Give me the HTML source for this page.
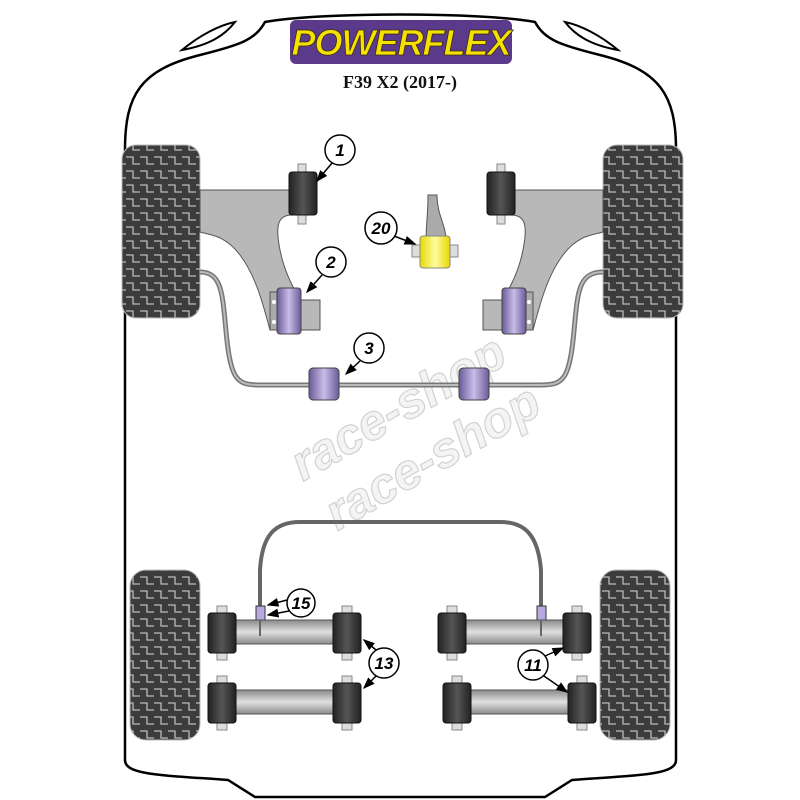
<!DOCTYPE html>
<html><head><meta charset="utf-8"><style>html,body{margin:0;padding:0;background:#fff}svg{display:block}</style></head>
<body>
<svg width="800" height="800" viewBox="0 0 800 800" xmlns="http://www.w3.org/2000/svg">
<defs>
<pattern id="tread" width="14" height="14" patternUnits="userSpaceOnUse">
<rect width="14" height="14" fill="#3c3c3c"/>
<path d="M0 3 H7 V10 H14" stroke="#bbb" stroke-width="1.3" fill="none"/>
</pattern>
<linearGradient id="bar" x1="0" y1="0" x2="0" y2="1"><stop offset="0" stop-color="#8a8a8a"/><stop offset="0.5" stop-color="#e0e0e0"/><stop offset="1" stop-color="#8a8a8a"/></linearGradient>
<linearGradient id="blk" x1="0" y1="0" x2="1" y2="0"><stop offset="0" stop-color="#222"/><stop offset="0.5" stop-color="#555"/><stop offset="1" stop-color="#222"/></linearGradient>
<linearGradient id="pur" x1="0" y1="0" x2="1" y2="0"><stop offset="0" stop-color="#6a5a9a"/><stop offset="0.5" stop-color="#c8bde8"/><stop offset="1" stop-color="#6a5a9a"/></linearGradient>
<linearGradient id="yel" x1="0" y1="0" x2="1" y2="0"><stop offset="0" stop-color="#e8d800"/><stop offset="0.5" stop-color="#fffca0"/><stop offset="1" stop-color="#e8d800"/></linearGradient>
<marker id="ar" markerWidth="8" markerHeight="8" refX="7" refY="4" orient="auto"><path d="M0 1 L8 4 L0 7 Z" fill="#000"/></marker>
</defs>
<path d="M125 760 L125 150 C125 95 140 70 200 55 C240 45 255 40 265 22 C320 12 480 12 535 22 C545 40 560 45 600 55 C660 70 676 95 676 150 L676 760 C676 775 640 775 572 780 L545 797 L255 797 L228 780 C160 775 125 775 125 760 Z" fill="#fff" stroke="#000" stroke-width="2.5"/>
<path d="M182 50 C200 35 220 25 235 22 C225 35 210 45 182 50 Z" fill="#fff" stroke="#000" stroke-width="2"/>
<path d="M618 50 C600 35 580 25 565 22 C575 35 590 45 618 50 Z" fill="#fff" stroke="#000" stroke-width="2"/>
<rect x="290" y="20" width="222" height="44" rx="6" fill="#5b3a8c"/>
<text x="401" y="55" text-anchor="middle" font-family="Liberation Sans, sans-serif" font-weight="bold" font-style="italic" font-size="36" fill="#f5e100" stroke="#3a2a10" stroke-width="0.8" letter-spacing="-1">POWERFLEX</text>
<text x="400" y="88" text-anchor="middle" font-family="Liberation Serif, serif" font-weight="bold" font-size="18" fill="#111">F39 X2 (2017-)</text>
<g transform="rotate(-30 400 420)" font-family="Liberation Sans, sans-serif" font-weight="bold" font-style="italic" font-size="50" fill="#f4f4f4" stroke="#d2d2d2" stroke-width="1.2">
<text x="285" y="425">race-shop</text><text x="290" y="485">race-shop</text></g>
<rect x="122" y="145" width="78" height="173" rx="14" fill="url(#tread)" stroke="#bbb"/>
<rect x="603" y="145" width="80" height="173" rx="14" fill="url(#tread)" stroke="#bbb"/>
<path d="M200 272 C220 272 222 290 225 320 C230 380 235 385 260 385 L540 385 C565 385 570 380 575 320 C578 290 580 272 603 272" fill="none" stroke="#777" stroke-width="5"/>
<path d="M200 272 C220 272 222 290 225 320 C230 380 235 385 260 385 L540 385 C565 385 570 380 575 320 C578 290 580 272 603 272" fill="none" stroke="#bbb" stroke-width="2"/>
<path d="M200 190 L292 190 L292 215 C278 215 275 225 280 250 C285 275 295 290 300 300 L320 300 L320 330 L270 330 C262 300 255 275 240 255 C225 235 210 235 200 232 Z" fill="#b8b8b8" stroke="#555" stroke-width="1"/>
<path d="M603 190 L511 190 L511 215 C525 215 528 225 523 250 C518 275 508 290 503 300 L483 300 L483 330 L533 330 C541 300 548 275 563 255 C578 235 593 235 603 232 Z" fill="#b8b8b8" stroke="#555" stroke-width="1"/>
<rect x="270" y="292" width="30" height="38" fill="#aaa" stroke="#555"/>
<rect x="503" y="292" width="30" height="38" fill="#aaa" stroke="#555"/>
<circle cx="274" cy="302" r="2" fill="#fff"/><circle cx="274" cy="322" r="2" fill="#fff"/>
<circle cx="529" cy="302" r="2" fill="#fff"/><circle cx="529" cy="322" r="2" fill="#fff"/>
<rect x="298" y="164" width="8" height="60" fill="#ddd" stroke="#888"/>
<rect x="289" y="172" width="28" height="43" rx="3" fill="url(#blk)" stroke="#111"/>
<rect x="497" y="164" width="8" height="60" fill="#ddd" stroke="#888"/>
<rect x="487" y="172" width="28" height="43" rx="3" fill="url(#blk)" stroke="#111"/>
<rect x="277" y="288" width="24" height="46" rx="3" fill="url(#pur)" stroke="#444"/>
<rect x="502" y="288" width="24" height="46" rx="3" fill="url(#pur)" stroke="#444"/>
<rect x="309" y="368" width="30" height="32" rx="4" fill="url(#pur)" stroke="#444"/>
<rect x="459" y="368" width="30" height="32" rx="4" fill="url(#pur)" stroke="#444"/>
<path d="M428 195 L437 195 C437 215 446 225 446 240 L426 240 C426 225 428 215 428 195 Z" fill="#aaa" stroke="#555"/>
<rect x="412" y="245" width="46" height="12" fill="#ddd" stroke="#888"/>
<rect x="420" y="236" width="30" height="32" rx="3" fill="url(#yel)" stroke="#888"/>
<rect x="130" y="570" width="70" height="170" rx="16" fill="url(#tread)" stroke="#bbb"/>
<rect x="600" y="570" width="70" height="170" rx="16" fill="url(#tread)" stroke="#bbb"/>
<path d="M260 612 L260 570 C262 535 275 522 300 522 L500 522 C525 522 538 535 541 570 L541 612" fill="none" stroke="#666" stroke-width="4"/>
<rect x="256" y="606" width="9" height="14" fill="#b8a8e0" stroke="#333"/>
<rect x="537" y="606" width="9" height="14" fill="#b8a8e0" stroke="#333"/>
<g id="armL">
<rect x="228" y="620" width="110" height="24" fill="url(#bar)" stroke="#555"/>
<rect x="217" y="606" width="10" height="54" fill="#ddd" stroke="#888"/>
<rect x="342" y="606" width="10" height="54" fill="#ddd" stroke="#888"/>
<rect x="208" y="613" width="28" height="40" rx="3" fill="url(#blk)" stroke="#111"/>
<rect x="333" y="613" width="28" height="40" rx="3" fill="url(#blk)" stroke="#111"/>
</g>
<use href="#armL" transform="translate(0,70)"/>
<use href="#armL" transform="translate(230,0)"/>
<use href="#armL" transform="translate(235,70)"/>
<line x1="260" y1="620" x2="260" y2="636" stroke="#666" stroke-width="2"/>
<line x1="541" y1="620" x2="541" y2="636" stroke="#666" stroke-width="2"/>
<g font-family="Liberation Sans, sans-serif" font-weight="bold" font-style="italic" font-size="17" text-anchor="middle" fill="#000">
<circle cx="340" cy="150" r="15" fill="#fff" stroke="#000" stroke-width="1.5"/><text x="340" y="156">1</text>
<line x1="332" y1="163" x2="317" y2="181" stroke="#000" stroke-width="1.5" marker-end="url(#ar)"/>
<circle cx="331" cy="262" r="15" fill="#fff" stroke="#000" stroke-width="1.5"/><text x="331" y="268">2</text>
<line x1="322" y1="275" x2="307" y2="292" stroke="#000" stroke-width="1.5" marker-end="url(#ar)"/>
<circle cx="369" cy="348" r="15" fill="#fff" stroke="#000" stroke-width="1.5"/><text x="369" y="354">3</text>
<line x1="360" y1="361" x2="346" y2="374" stroke="#000" stroke-width="1.5" marker-end="url(#ar)"/>
<circle cx="381" cy="228" r="16" fill="#fff" stroke="#000" stroke-width="1.5"/><text x="381" y="234">20</text>
<line x1="394" y1="236" x2="415" y2="244" stroke="#000" stroke-width="1.5" marker-end="url(#ar)"/>
<circle cx="301" cy="603" r="14" fill="#fff" stroke="#000" stroke-width="1.5"/><text x="301" y="609">15</text>
<line x1="287" y1="600" x2="268" y2="605" stroke="#000" stroke-width="1.5" marker-end="url(#ar)"/>
<line x1="289" y1="611" x2="268" y2="615" stroke="#000" stroke-width="1.5" marker-end="url(#ar)"/>
<circle cx="384" cy="663" r="15" fill="#fff" stroke="#000" stroke-width="1.5"/><text x="384" y="669">13</text>
<line x1="376" y1="650" x2="364" y2="640" stroke="#000" stroke-width="1.5" marker-end="url(#ar)"/>
<line x1="376" y1="676" x2="364" y2="688" stroke="#000" stroke-width="1.5" marker-end="url(#ar)"/>
<circle cx="533" cy="665" r="15" fill="#fff" stroke="#000" stroke-width="1.5"/><text x="533" y="671">11</text>
<line x1="545" y1="656" x2="563" y2="648" stroke="#000" stroke-width="1.5" marker-end="url(#ar)"/>
<line x1="544" y1="676" x2="567" y2="692" stroke="#000" stroke-width="1.5" marker-end="url(#ar)"/>
</g>
</svg>
</body></html>
